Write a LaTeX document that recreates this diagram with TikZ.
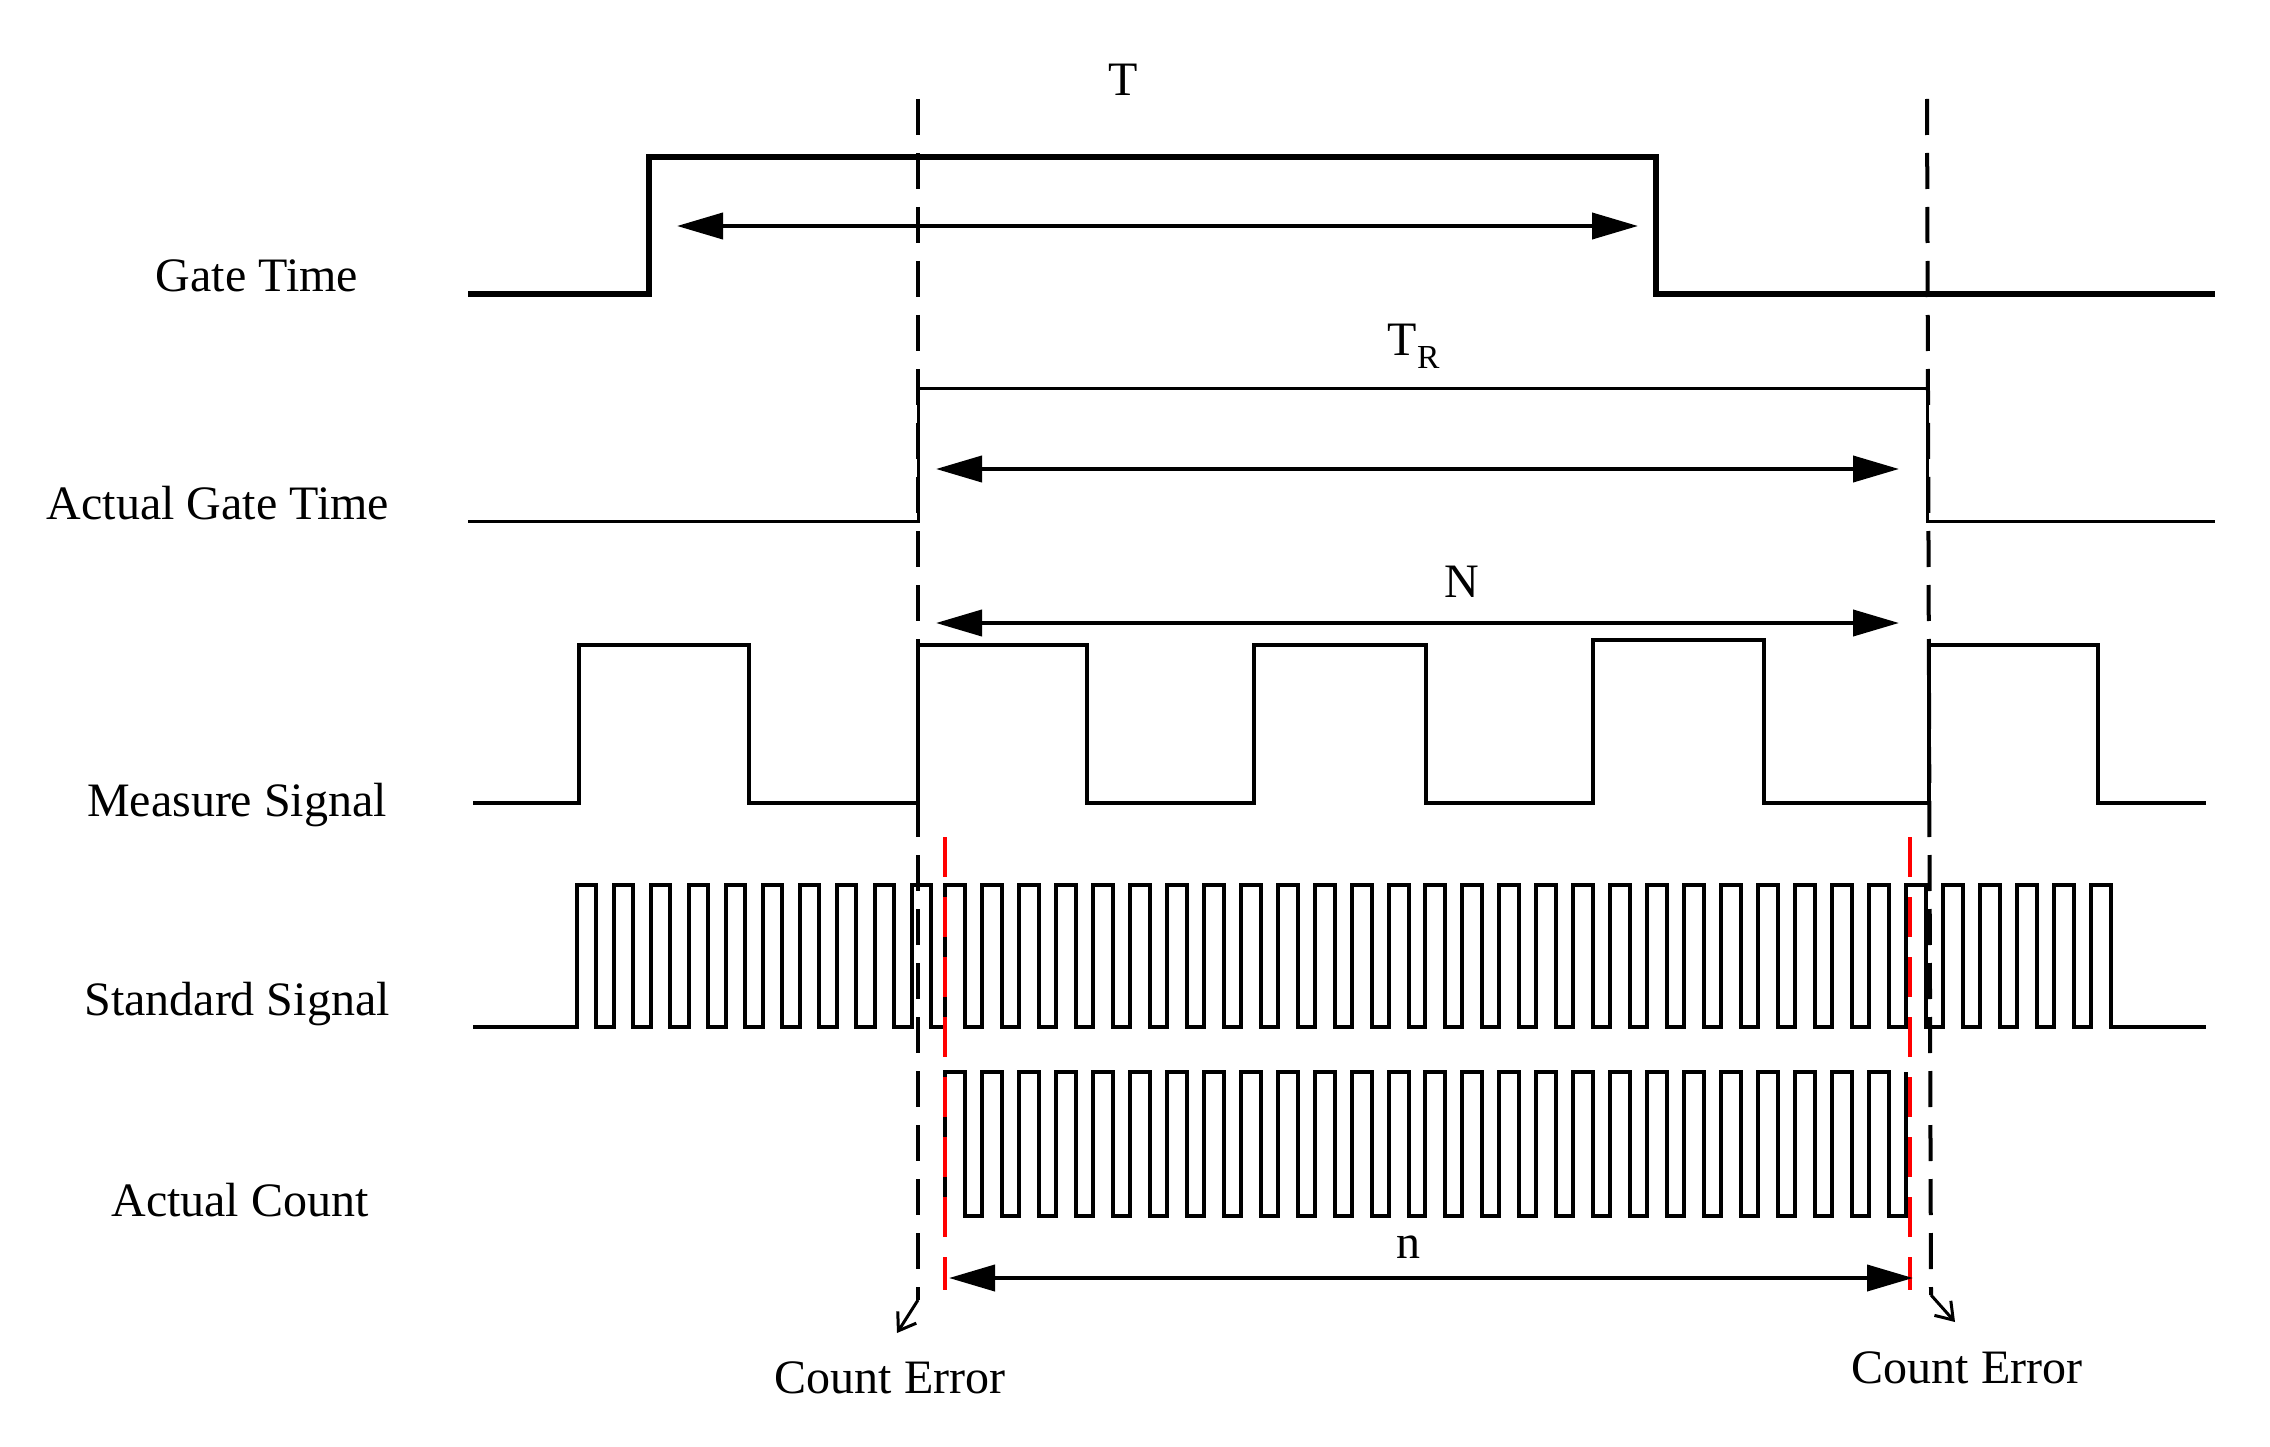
\documentclass[tikz,border=0pt]{standalone}
\usepackage{fontspec}
\setmainfont{Liberation Serif}
\usetikzlibrary{arrows.meta}
\begin{document}
\begin{tikzpicture}[x=1pt,y=-1pt,
  sig/.style={line width=4pt,line join=miter},
  gate/.style={line width=5.5pt},
  dim/.style={line width=4pt,{Triangle[length=46pt,width=26pt]}-{Triangle[length=46pt,width=26pt]}},
  bdash/.style={line width=4pt,dash pattern=on 36pt off 18pt},
  rdash/.style={line width=4pt,red,dash pattern=on 40pt off 20pt},
  lbl/.style={font=\fontsize{48}{52}\selectfont,inner sep=0pt}]
\useasboundingbox (0,0) rectangle (2270,1447);
% labels
\node[lbl] (lg) at (257,276) {Gate Time};
\node[lbl] (la) at (218,503) {Actual Gate Time};
\node[lbl] (lm) at (237,805) {Measure Signal};
\node[lbl] (ls) at (237,1004) {Standard Signal};
\node[lbl] (lc) at (240,1200) {Actual Count};
\node[lbl] (lT) at (1123,80) {T};
\node[lbl] (lTR) at (1414,346) {T\textsubscript{R}};
\node[lbl] (lN) at (1462,582) {N};
\node[lbl] (ln) at (1408,1247) {n};
\node[lbl] (ce1) at (890,1378) {Count Error};
\node[lbl] (ce2) at (1967,1368) {Count Error};
% gate time
\draw[gate] (468,294) -- (649,294) -- (649,157) -- (1656,157) -- (1656,294) -- (2215,294);
\coordinate (t1) at (677,226); \coordinate (t2) at (1638,226);
\draw[dim] (t1) -- (t2);
% actual gate
\draw[line width=3pt] (468,521) -- (918,521) -- (918,388) -- (1927,388) -- (1927,521) -- (2215,521);
\coordinate (r1) at (936,469); \coordinate (r2) at (1899,469);
\draw[dim] (r1) -- (r2);
\coordinate (n1) at (936,623); \coordinate (n2) at (1899,623);
\draw[dim] (n1) -- (n2);
% measure signal
\draw[sig] (473,803) -- (579,803) -- (579,645) -- (749,645) -- (749,803) -- (918,803) -- (918,645)
  -- (1087,645) -- (1087,803) -- (1254,803) -- (1254,645) -- (1426,645) -- (1426,803)
  -- (1593,803) -- (1593,640) -- (1764,640) -- (1764,803) -- (1929,803) -- (1929,645)
  -- (2098,645) -- (2098,803) -- (2206,803);
% standard signal
\draw[sig] (473,1027) \foreach \k in {0,...,9}{ -- ({577+37.2*\k},1027) -- ++(0,-142) -- ++(19,0) -- ++(0,142)}
  \foreach \k in {0,...,31}{ -- ({945+36.96*\k},1027) -- ++(0,-142) -- ++(20,0) -- ++(0,142)} -- (2206,1027);
% actual count
\draw[sig] (945,1216) \foreach \k in {0,...,25}{ -- ({945+36.96*\k},1216) -- ++(0,-144) -- ++(20,0) -- ++(0,144)} -- (1906,1216) -- (1906,1072);
% dashed lines
\coordinate (d1t) at (918,99); \coordinate (d1b) at (918,1300); \coordinate (d1e) at (897,1333);
\coordinate (d2t) at (1927,99); \coordinate (d2b) at (1931,1295); \coordinate (d2e) at (1955,1322);
\draw[bdash] (d1t) -- (d1b);
\draw[bdash] (d2t) -- (d2b);
\draw[line width=3pt,-{Straight Barb[length=16pt,width=22pt]}] (d1b) -- (d1e);
\draw[line width=3pt,-{Straight Barb[length=16pt,width=22pt]}] (d2b) -- (d2e);
\draw[rdash] (945,837) -- (945,1290);
\draw[rdash] (1910,837) -- (1910,1290);
\coordinate (m1) at (949,1278); \coordinate (m2) at (1913,1278);
\draw[dim] (m1) -- (m2);
\end{tikzpicture}
\end{document}
